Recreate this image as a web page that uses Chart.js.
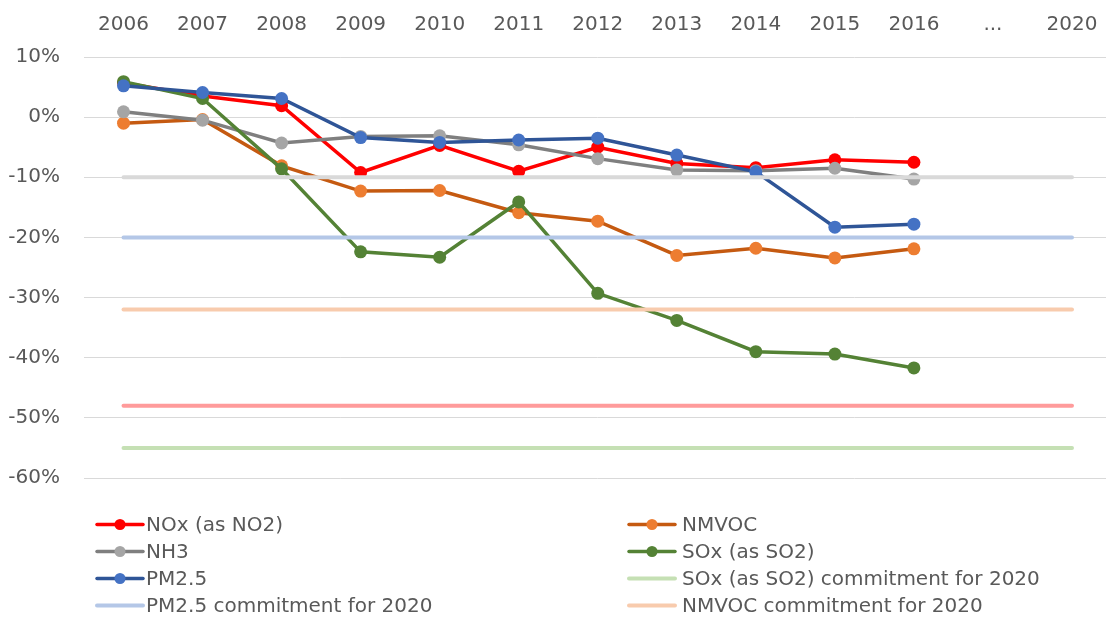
<!DOCTYPE html>
<html>
<head>
<meta charset="utf-8">
<script src="https://cdn.jsdelivr.net/npm/chart.js@4/dist/chart.umd.min.js"></script>
<style>
  html, body { margin: 0; padding: 0; background: #fff; overflow: hidden; width: 1106px; height: 621px; }
  #c { position: absolute; left: 0; top: 0; }
  #legend { position: absolute; left: 0; top: 0; width: 1106px; height: 621px; pointer-events: none;
            font-family: "DejaVu Sans", sans-serif; font-size: 20px; color: #595959; }
  .item { position: absolute; height: 27px; line-height: 27px; white-space: nowrap; }
  .item svg { position: absolute; left: 0; top: 3px; }
  .item span { position: absolute; top: 0; }
</style>
</head>
<body>
<canvas id="c" width="1118" height="514" style="width:1118px;height:514px"></canvas>
<div id="legend"></div>
<script>
// Categories (top axis)
const categories = ['2006','2007','2008','2009','2010','2011','2012','2013','2014','2015','2016','...','2020'];

// Emission changes vs. reference (%), 2006-2016
const noxValues   = [5.7, 3.5, 1.9, -9.2, -4.7, -9.0, -5.0, -7.7, -8.4, -7.1, -7.5];
const nmvocValues = [-1.0, -0.4, -8.1, -12.3, -12.2, -15.9, -17.3, -23.0, -21.8, -23.4, -21.9];
const nh3Values   = [0.9, -0.5, -4.3, -3.2, -3.1, -4.6, -6.9, -8.8, -8.9, -8.5, -10.3];
const soxValues   = [5.9, 3.1, -8.6, -22.4, -23.3, -14.1, -29.3, -33.8, -39.0, -39.4, -41.7];
const pm25Values  = [5.2, 4.1, 3.1, -3.4, -4.2, -3.8, -3.5, -6.3, -9.1, -18.3, -17.8];

// 2020 commitments (%)
const nh3Commitment   = -10;
const pm25Commitment  = -20;
const nmvocCommitment = -32;
const noxCommitment   = -48;
const soxCommitment   = -55;

// Y-axis ticks
const yTicks = [10, 0, -10, -20, -30, -40, -50, -60];

function commitLine(v) {
  const arr = categories.map(() => null);
  arr[0] = v;
  arr[categories.length - 1] = v;
  return arr;
}

function series(label, data, lineColor, markerColor, order) {
  return {
    label, data,
    borderColor: lineColor, backgroundColor: markerColor,
    borderWidth: 3.5, pointRadius: 6.5, pointHoverRadius: 6.5,
    pointBackgroundColor: markerColor, pointBorderColor: markerColor, pointBorderWidth: 0,
    tension: 0, order, inLegend: true, marker: true
  };
}
function commit(label, v, color, order, inLegend) {
  return {
    label, data: commitLine(v),
    borderColor: color, backgroundColor: color,
    borderWidth: 4, pointRadius: 0, pointHoverRadius: 0, spanGaps: true,
    tension: 0, order, inLegend, marker: false, borderCapStyle: 'round'
  };
}

const datasets = [
  series('NOx (as NO2)', noxValues, '#ff0000', '#ff0000', 15),
  series('NMVOC', nmvocValues, '#c55a11', '#ed7d31', 14),
  series('NH3', nh3Values, '#7f7f7f', '#a5a5a5', 13),
  series('SOx (as SO2)', soxValues, '#548235', '#548235', 12),
  series('PM2.5', pm25Values, '#2f5597', '#4472c4', 11),
  commit('SOx (as SO2) commitment for 2020', soxCommitment, '#c5e0b4', 5, true),
  commit('PM2.5 commitment for 2020', pm25Commitment, '#b4c7e7', 4, true),
  commit('NMVOC commitment for 2020', nmvocCommitment, '#f8cbad', 3, true),
  commit('NOx (as NO2) commitment for 2020', noxCommitment, '#ff9b9b', 2, false),
  commit('NH3 commitment for 2020', nh3Commitment, '#d9d9d9', 1, false)
];

const FONT = { family: '"DejaVu Sans", sans-serif', size: 20 };

const chart = new Chart(document.getElementById('c'), {
  type: 'line',
  data: { labels: categories, datasets },
  options: {
    responsive: false,
    animation: false,
    events: [],
    layout: { padding: { left: 0, right: 0, top: 0, bottom: 15 } },
    plugins: { legend: { display: false }, tooltip: { enabled: false } },
    scales: {
      x: {
        position: 'top',
        offset: true,
        grid: { display: false, drawTicks: false },
        border: { display: false },
        ticks: { color: '#595959', font: FONT, padding: 20, maxRotation: 0, autoSkip: false },
        afterFit: (s) => { s.height = 57; }
      },
      y: {
        min: -60, max: 10,
        afterBuildTicks: (s) => { s.ticks = yTicks.map(v => ({ value: v })); },
        grid: { color: '#d9d9d9', lineWidth: 1, drawTicks: false },
        border: { display: false },
        ticks: { color: '#595959', font: FONT, padding: 24, callback: (v) => v + '%' },
        afterFit: (s) => { s.width = 84; }
      }
    }
  }
});

// HTML legend built from the chart's datasets (two columns)
const legend = document.getElementById('legend');
const items = chart.data.datasets.filter(d => d.inLegend);
const colX = [95, 627];
const rowY = [511, 538, 565, 592];
items.forEach((d, i) => {
  const col = i % 2, row = Math.floor(i / 2);
  const div = document.createElement('div');
  div.className = 'item';
  div.style.left = colX[col] + 'px';
  div.style.top = rowY[row] + 'px';
  const svgNS = 'http://www.w3.org/2000/svg';
  const svg = document.createElementNS(svgNS, 'svg');
  svg.setAttribute('width', '50'); svg.setAttribute('height', '21');
  const ln = document.createElementNS(svgNS, 'line');
  ln.setAttribute('x1', '2'); ln.setAttribute('x2', '48');
  ln.setAttribute('y1', '10.5'); ln.setAttribute('y2', '10.5');
  ln.setAttribute('stroke', d.borderColor);
  ln.setAttribute('stroke-width', d.marker ? '3.5' : '4');
  ln.setAttribute('stroke-linecap', 'round');
  svg.appendChild(ln);
  if (d.marker) {
    const c = document.createElementNS(svgNS, 'circle');
    c.setAttribute('cx', '25'); c.setAttribute('cy', '10.5'); c.setAttribute('r', '5.5');
    c.setAttribute('fill', d.pointBackgroundColor);
    svg.appendChild(c);
  }
  div.appendChild(svg);
  const sp = document.createElement('span');
  sp.style.left = (col === 0 ? 51 : 55) + 'px';
  sp.textContent = d.label;
  div.appendChild(sp);
  legend.appendChild(div);
});
</script>
</body>
</html>
